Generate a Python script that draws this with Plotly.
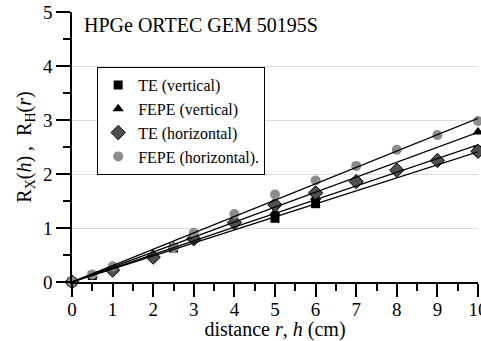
import plotly.graph_objects as go

FONT = "Liberation Serif"

# --- data ---
te_v_x = [0, 0.5, 2.5, 5, 6, 10]
te_v_y = [0, 0.12, 0.63, 1.18, 1.45, 2.44]

fepe_v_x = [0, 0.5, 2.5, 5, 6, 10]
fepe_v_y = [0, 0.13, 0.66, 1.29, 1.57, 2.78]

te_h_x = [0, 1, 2, 3, 4, 5, 6, 7, 8, 9, 10]
te_h_y = [0, 0.22, 0.46, 0.80, 1.10, 1.43, 1.65, 1.86, 2.07, 2.25, 2.42]

fepe_h_x = [0, 0.5, 1, 2.5, 3, 4, 5, 6, 7, 8, 9, 10]
fepe_h_y = [0, 0.14, 0.29, 0.64, 0.91, 1.26, 1.62, 1.88, 2.15, 2.45, 2.72, 2.98]

fit_names = ["TE (vertical)", "FEPE (vertical)", "TE (horizontal)", "FEPE (horizontal)."]
fit_slopes = [0.241, 0.277, 0.254, 0.303]
fit_x = [0, 10]

x_ticks = list(range(0, 11))
y_ticks = [0, 1, 2, 3, 4, 5]

fig = go.Figure()

series = [
    (te_v_x, te_v_y, "TE (vertical)", "square", 9, "black", "black", 0),
    (fepe_v_x, fepe_v_y, "FEPE (vertical)", "triangle-up", 10, "black", "black", 0),
    (te_h_x, te_h_y, "TE (horizontal)", "diamond", 11, "#505050", "black", 1),
    (fepe_h_x, fepe_h_y, "FEPE (horizontal).", "circle", 10, "#8c8c8c", "#8c8c8c", 0),
]
for xs, ys, name, sym, size, col, lcol, lw in series:
    fig.add_trace(go.Scatter(
        x=xs, y=ys, name=name, mode="markers", cliponaxis=False,
        marker=dict(symbol=sym, size=size, color=col, line=dict(color=lcol, width=lw)),
    ))

for name, s in zip(fit_names, fit_slopes):
    fig.add_trace(go.Scatter(
        x=fit_x, y=[s * v for v in fit_x], mode="lines", showlegend=False,
        line=dict(color="black", width=1.3), hoverinfo="skip",
    ))

fig.add_annotation(
    text="HPGe ORTEC GEM 50195S", xref="paper", yref="paper",
    x=0.024, y=0.952, xanchor="left", yanchor="middle", showarrow=False,
    font=dict(family=FONT, size=20, color="black"),
)

fig.update_layout(
    width=481, height=341,
    margin=dict(l=72, r=3, t=12, b=59),
    paper_bgcolor="white", plot_bgcolor="white",
    font=dict(family=FONT, color="black"),
    showlegend=True,
    legend=dict(
        x=0.062, y=0.796, xanchor="left", yanchor="top",
        bordercolor="black", borderwidth=1, bgcolor="white",
        font=dict(family=FONT, size=16, color="black"),
        itemwidth=30, tracegroupgap=0,
    ),
    xaxis=dict(
        range=[0, 10], tickvals=x_ticks, ticktext=[str(v) for v in x_ticks],
        showgrid=False, zeroline=False, ticklabeloverflow="allow", automargin=False,
        showline=True, linecolor="black", linewidth=1.5,
        ticks="outside", ticklen=13, tickwidth=1.5, tickcolor="black", ticklabelstandoff=-4,
        minor=dict(dtick=0.5, ticks="outside", ticklen=7, tickwidth=1.5, tickcolor="black", showgrid=False),
        tickfont=dict(family=FONT, size=19),
        title=dict(text="distance <i>r</i>, <i>h</i> (cm)", font=dict(family=FONT, size=20), standoff=4),
    ),
    yaxis=dict(
        range=[0, 5], tickvals=y_ticks, ticktext=[str(v) for v in y_ticks],
        showgrid=True, gridcolor="#dcdcdc", gridwidth=1, zeroline=False, automargin=False,
        showline=True, linecolor="black", linewidth=1.5,
        ticks="outside", ticklen=14, tickwidth=1.5, tickcolor="black",
        minor=dict(dtick=0.5, ticks="outside", ticklen=7, tickwidth=1.5, tickcolor="black", showgrid=False),
        tickfont=dict(family=FONT, size=19),
        title=dict(text="R<sub>X</sub>(<i>h</i>) ,  R<sub>H</sub>(<i>r</i>)", font=dict(family=FONT, size=20), standoff=6),
    ),
)

fig.write_html("out.html")
